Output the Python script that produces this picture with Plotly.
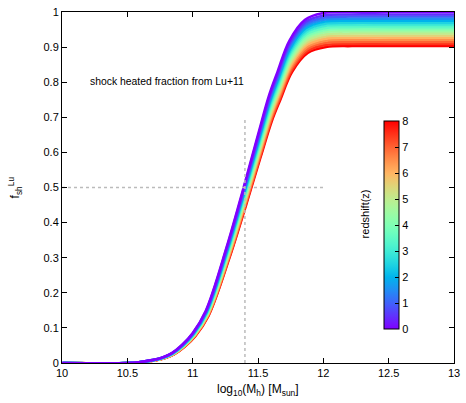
import numpy as np
import plotly.graph_objects as go

# ---- data ----
# shock-heated fraction curve for z = 0 (purple, top curve)
log_mh = [10.0, 10.5, 10.6, 10.7, 10.77, 10.84, 10.92, 11.0, 11.1, 11.26, 11.39,
          11.5, 11.587, 11.65, 11.74, 11.86, 12.0, 12.2, 12.5, 13.0]
f_sh_z0 = [0.0, 0.0, 0.003, 0.009, 0.016, 0.028, 0.052, 0.085, 0.148, 0.33, 0.5,
           0.65, 0.765, 0.83, 0.918, 0.978, 0.997, 1.0, 1.0, 1.0]
# redshifts of the curves, their high-mass plateau value and their small shift in mass
redshifts = [0, 0.5, 1, 1.5, 2, 2.5, 3, 3.5, 4, 4.5, 5, 5.5, 6, 6.5, 7, 7.5, 8]
plateau = [1.0, 0.993, 0.987, 0.981, 0.975, 0.969, 0.963, 0.957, 0.951,
           0.945, 0.939, 0.933, 0.927, 0.921, 0.915, 0.909, 0.903]
mass_shift = [0.0, 0.001, 0.003, 0.004, 0.005, 0.006, 0.008, 0.009, 0.01,
              0.011, 0.013, 0.014, 0.015, 0.016, 0.018, 0.019, 0.02]
# guide lines
guide_x = 11.4
guide_x_ymax = 0.7
guide_y = 0.5
guide_y_xmax = 12.0
x_ticks = [10, 10.5, 11, 11.5, 12, 12.5, 13]
x_ticklabels = ["10", "10.5", "11", "11.5", "12", "12.5", "13"]
y_ticks = [0, 0.1, 0.2, 0.3, 0.4, 0.5, 0.6, 0.7, 0.8, 0.9, 1]
y_ticklabels = ["0", "0.1", "0.2", "0.3", "0.4", "0.5", "0.6", "0.7", "0.8", "0.9", "1"]
cb_ticks = [0, 1, 2, 3, 4, 5, 6, 7, 8]

# gnuplot "rainbow" palette (rgbformulae 33,13,10)
def pal(t):
    r = min(1.0, abs(2 * t - 0.5))
    g = np.sin(np.pi * t)
    b = max(0.0, np.cos(np.pi / 2 * t))
    return "rgb(%d,%d,%d)" % (round(255 * r), round(255 * g), round(255 * b))

colorscale = [[t, pal(t)] for t in np.linspace(0, 1, 33)]
zmin, zmax = 0, 8

FONT = "Liberation Sans, Arial, sans-serif"
fig = go.Figure()

base_x = np.array(log_mh)
base_y = np.array(f_sh_z0)
order = sorted(range(len(redshifts)), key=lambda i: -redshifts[i])
for i in order:
    z = redshifts[i]
    fig.add_trace(go.Scatter(
        x=base_x + mass_shift[i], y=base_y * plateau[i], mode="lines",
        line=dict(color=pal((z - zmin) / (zmax - zmin)), width=2.6, shape="spline", smoothing=1.0),
        showlegend=False, hoverinfo="skip", cliponaxis=True))

# dotted guides
fig.add_trace(go.Scatter(x=[guide_x, guide_x], y=[0, guide_x_ymax], mode="lines",
                         line=dict(color="#bbbbbb", width=1.5, dash="dot"),
                         showlegend=False, hoverinfo="skip"))
fig.add_trace(go.Scatter(x=[10, guide_y_xmax], y=[guide_y, guide_y], mode="lines",
                         line=dict(color="#bbbbbb", width=1.5, dash="dot"),
                         showlegend=False, hoverinfo="skip"))

# colorbar holder
fig.add_trace(go.Scatter(
    x=[10], y=[0], mode="markers",
    marker=dict(size=0.1, color=[0], colorscale=colorscale, cmin=zmin, cmax=zmax,
                showscale=True,
                colorbar=dict(x=0.8216, xanchor="left", xpad=0, y=0.393, yanchor="middle", ypad=0,
                              len=208, lenmode="pixels", thickness=15,
                              outlinewidth=1, outlinecolor="black",
                              tickvals=cb_ticks, ticks="inside", ticklen=4,
                              tickcolor="black", tickfont=dict(family=FONT, size=11, color="black"))),
    showlegend=False, hoverinfo="skip"))

axis_common = dict(showline=True, linecolor="black", linewidth=1, mirror="allticks",
                   ticks="inside", ticklen=5, tickcolor="black", showgrid=False,
                   zeroline=False, ticklabeloverflow="allow",
                   tickfont=dict(family=FONT, size=11, color="black"))
fig.update_xaxes(range=[10, 13], tickvals=x_ticks, ticktext=x_ticklabels, **axis_common)
fig.update_yaxes(range=[0, 1], tickvals=y_ticks, ticktext=y_ticklabels, **axis_common)

fig.update_layout(
    width=466, height=403,
    margin=dict(l=62, r=6, t=10, b=40),
    plot_bgcolor="white", paper_bgcolor="white",
    font=dict(family=FONT, size=11, color="black"),
    hovermode=False,
    annotations=[
        dict(text="shock heated fraction from Lu+11", xref="paper", yref="paper",
             x=0.0653, y=0.8016, xanchor="left", yanchor="middle", showarrow=False,
             font=dict(family=FONT, size=10.4)),
        dict(text="log<sub>10</sub>(M<sub>h</sub>) [M<sub>sun</sub>]", xref="paper", yref="paper",
             x=0.5, y=-0.077, xanchor="center", yanchor="middle", showarrow=False,
             font=dict(family=FONT, size=12)),
        dict(text="f<sub>sh</sub><sup>Lu</sup>", xref="paper", yref="paper",
             x=-0.12, y=0.5, xanchor="center", yanchor="middle", textangle=-90, showarrow=False,
             font=dict(family=FONT, size=12)),
        dict(text="redshift(z)", xref="paper", yref="paper",
             x=(370 - 62) / 398, y=(362.7 - 213) / 352.7, xanchor="center", yanchor="middle",
             textangle=-90, showarrow=False, font=dict(family=FONT, size=11)),
    ],
)

# remove the browser's default 8px page margin so the figure fills the window
fig.write_html("out.html", config={"displayModeBar": False, "staticPlot": True},
               post_script="document.body.style.margin='0px';")
